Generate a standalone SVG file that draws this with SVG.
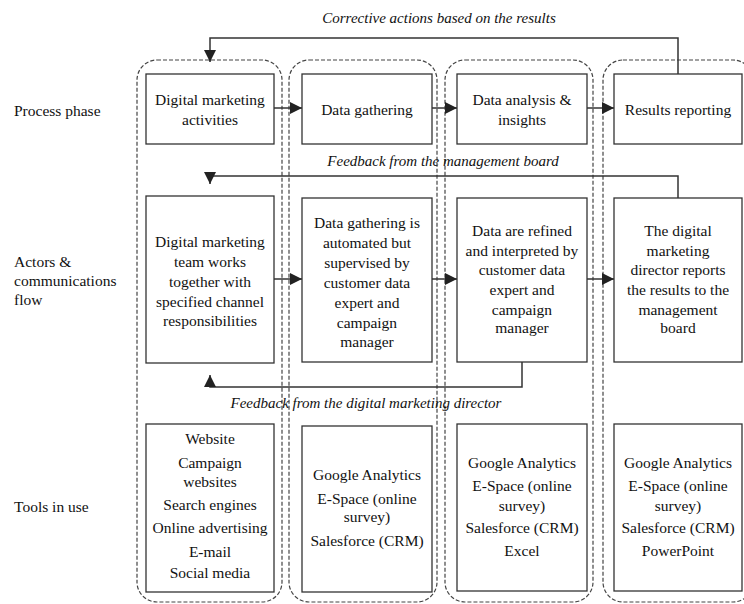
<svg xmlns="http://www.w3.org/2000/svg" width="744" height="604" viewBox="0 0 744 604" font-family="'Liberation Serif', 'Times New Roman', serif">
<defs>
<style>
text{font-family:"Liberation Serif","Times New Roman",serif;font-size:15.5px;fill:#111}
.c{text-anchor:middle}
.it{font-style:italic;font-size:15px}
.col{fill:none;stroke:#444;stroke-width:1.2;stroke-dasharray:4 2}
.box{fill:#fff;stroke:#333;stroke-width:1.3}
.ln{fill:none;stroke:#333;stroke-width:1.5}
.ar{fill:none;stroke:#333;stroke-width:1.5}
</style>
<marker id="ahv" viewBox="0 0 12 12" refX="12" refY="6" markerWidth="12" markerHeight="13" markerUnits="userSpaceOnUse" orient="auto">
<path d="M0,0 L12,6 L0,12 z" fill="#222"/>
</marker>
</defs>

<g id="row-labels">
<text x="14" y="116">Process phase</text>
<text x="14" y="267">Actors &amp;</text>
<text x="14" y="286">communications</text>
<text x="14" y="305">flow</text>
<text x="14" y="512">Tools in use</text>
</g>

<g id="columns">
<rect id="col1" class="col" x="137" y="60" width="145" height="542" rx="20"/>
<rect id="col2" class="col" x="289" y="60" width="148" height="542" rx="20"/>
<rect id="col3" class="col" x="445" y="60" width="148" height="542" rx="20"/>
<rect id="col4" class="col" x="603" y="60" width="150" height="542" rx="20"/>
</g>

<g id="connectors">
<polyline class="ln" points="678,74 678,38 210,38 210,62" marker-end="url(#ahv)"/>
<polyline class="ln" points="678,198 678,176 210,176 210,184" marker-end="url(#ahv)"/>
<polyline class="ln" points="522,362 522,387 210,387 210,375" marker-end="url(#ahv)"/>
<line class="ar" x1="274" y1="108" x2="302" y2="108" marker-end="url(#ahv)"/>
<line class="ar" x1="432" y1="108" x2="457" y2="108" marker-end="url(#ahv)"/>
<line class="ar" x1="587" y1="108" x2="614" y2="108" marker-end="url(#ahv)"/>
<line class="ar" x1="274" y1="279" x2="302" y2="279" marker-end="url(#ahv)"/>
<line class="ar" x1="432" y1="279" x2="457" y2="279" marker-end="url(#ahv)"/>
<line class="ar" x1="587" y1="279" x2="614" y2="279" marker-end="url(#ahv)"/>
<text class="c it" x="439" y="23">Corrective actions based on the results</text>
<text class="c it" x="443" y="166">Feedback from the management board</text>
<text class="c it" x="366" y="408">Feedback from the digital marketing director</text>
</g>

<g id="n-activities">
<rect class="box" x="146" y="74" width="128" height="70"/>
<text class="c" x="210" y="105">Digital marketing</text>
<text class="c" x="210" y="125">activities</text>
</g>
<g id="n-gathering">
<rect class="box" x="302" y="74" width="130" height="70"/>
<text class="c" x="367" y="115">Data gathering</text>
</g>
<g id="n-analysis">
<rect class="box" x="457" y="74" width="130" height="70"/>
<text class="c" x="522" y="105">Data analysis &amp;</text>
<text class="c" x="522" y="125">insights</text>
</g>
<g id="n-reporting">
<rect class="box" x="614" y="74" width="128" height="70"/>
<text class="c" x="678" y="115">Results reporting</text>
</g>

<g id="n-team">
<rect class="box" x="146" y="196" width="128" height="167"/>
<text class="c" x="210" y="247">Digital marketing</text>
<text class="c" x="210" y="267">team works</text>
<text class="c" x="210" y="287">together with</text>
<text class="c" x="210" y="307">specified channel</text>
<text class="c" x="210" y="326">responsibilities</text>
</g>
<g id="n-automated">
<rect class="box" x="302" y="198" width="130" height="164"/>
<text class="c" x="367" y="228">Data gathering is</text>
<text class="c" x="367" y="248">automated but</text>
<text class="c" x="367" y="268">supervised by</text>
<text class="c" x="367" y="288">customer data</text>
<text class="c" x="367" y="308">expert and</text>
<text class="c" x="367" y="328">campaign</text>
<text class="c" x="367" y="347">manager</text>
</g>
<g id="n-refined">
<rect class="box" x="457" y="198" width="130" height="164"/>
<text class="c" x="522" y="236">Data are refined</text>
<text class="c" x="522" y="256">and interpreted by</text>
<text class="c" x="522" y="275">customer data</text>
<text class="c" x="522" y="295">expert and</text>
<text class="c" x="522" y="315">campaign</text>
<text class="c" x="522" y="333">manager</text>
</g>
<g id="n-director">
<rect class="box" x="614" y="198" width="128" height="164"/>
<text class="c" x="678" y="236">The digital</text>
<text class="c" x="678" y="256">marketing</text>
<text class="c" x="678" y="275">director reports</text>
<text class="c" x="678" y="295">the results to the</text>
<text class="c" x="678" y="315">management</text>
<text class="c" x="678" y="333">board</text>
</g>

<g id="n-tools1">
<rect class="box" x="146" y="424" width="128" height="168"/>
<text class="c" x="210" y="444">Website</text>
<text class="c" x="210" y="468">Campaign</text>
<text class="c" x="210" y="487">websites</text>
<text class="c" x="210" y="510">Search engines</text>
<text class="c" x="210" y="533">Online advertising</text>
<text class="c" x="210" y="557">E-mail</text>
<text class="c" x="210" y="578">Social media</text>
</g>
<g id="n-tools2">
<rect class="box" x="302" y="426" width="130" height="166"/>
<text class="c" x="367" y="480">Google Analytics</text>
<text class="c" x="367" y="504">E-Space (online</text>
<text class="c" x="367" y="522">survey)</text>
<text class="c" x="367" y="546">Salesforce (CRM)</text>
</g>
<g id="n-tools3">
<rect class="box" x="457" y="424" width="130" height="167"/>
<text class="c" x="522" y="468">Google Analytics</text>
<text class="c" x="522" y="491">E-Space (online</text>
<text class="c" x="522" y="511">survey)</text>
<text class="c" x="522" y="533">Salesforce (CRM)</text>
<text class="c" x="522" y="556">Excel</text>
</g>
<g id="n-tools4">
<rect class="box" x="614" y="424" width="128" height="167"/>
<text class="c" x="678" y="468">Google Analytics</text>
<text class="c" x="678" y="491">E-Space (online</text>
<text class="c" x="678" y="511">survey)</text>
<text class="c" x="678" y="533">Salesforce (CRM)</text>
<text class="c" x="678" y="556">PowerPoint</text>
</g>
</svg>
